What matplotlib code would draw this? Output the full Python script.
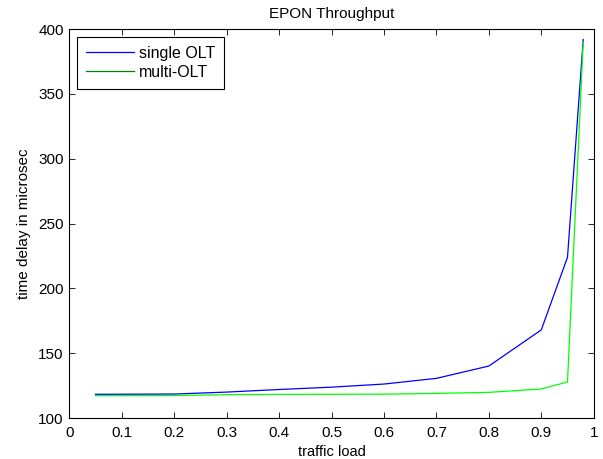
import matplotlib
matplotlib.use("Agg")
import matplotlib.pyplot as plt
from matplotlib.lines import Line2D

# traffic load vs delay
load = [0.05, 0.2, 0.3, 0.4, 0.5, 0.6, 0.7, 0.8, 0.9, 0.95, 0.98]
single_olt = [118.3, 118.5, 120.0, 122.0, 123.8, 126.2, 130.6, 140.1, 168.0, 224.0, 392.0]
multi_olt = [117.2, 117.3, 118.0, 118.2, 118.3, 118.4, 119.0, 119.8, 122.4, 127.8, 390.0]

plt.rcParams["font.family"] = ["Liberation Sans", "DejaVu Sans"]
fs = 11

fig = plt.figure(figsize=(6.03, 4.59), dpi=100)
ax = fig.add_axes([0.115, 0.0893, 0.8696, 0.8471])

ax.plot(load, single_olt, color="#0000ff", linewidth=0.9)
ax.plot(load, multi_olt, color="#00ff00", linewidth=0.9)

ax.set_xlim(0, 1)
ax.set_ylim(100, 400)
ax.set_xticks([0, 0.1, 0.2, 0.3, 0.4, 0.5, 0.6, 0.7, 0.8, 0.9, 1])
ax.set_xticklabels(["0", "0.1", "0.2", "0.3", "0.4", "0.5", "0.6", "0.7", "0.8", "0.9", "1"])
ax.set_yticks([100, 150, 200, 250, 300, 350, 400])
ax.tick_params(direction="in", top=True, right=True, labelsize=fs, length=4, width=0.6)
ax.tick_params(axis="x", pad=5.5)
ax.tick_params(axis="y", pad=4)
for s in ax.spines.values():
    s.set_linewidth(0.8)

ax.set_title("EPON Throughput", fontsize=fs, pad=8)
ax.set_xlabel("traffic load", fontsize=10.5, labelpad=4)
ax.set_ylabel("time delay in microsec", fontsize=fs, labelpad=5)

handles = [Line2D([], [], color="#0000ff", linewidth=0.9),
           Line2D([], [], color="#008000", linewidth=0.9)]
leg = ax.legend(handles, ["single OLT", "multi-OLT"], loc="upper left",
                fontsize=11.5, fancybox=False, framealpha=1, edgecolor="black",
                handlelength=3.0, handletextpad=0.3, borderpad=0.55,
                labelspacing=0.25, borderaxespad=0.5)
leg.get_frame().set_linewidth(0.8)

plt.savefig("out.png", dpi=100)
